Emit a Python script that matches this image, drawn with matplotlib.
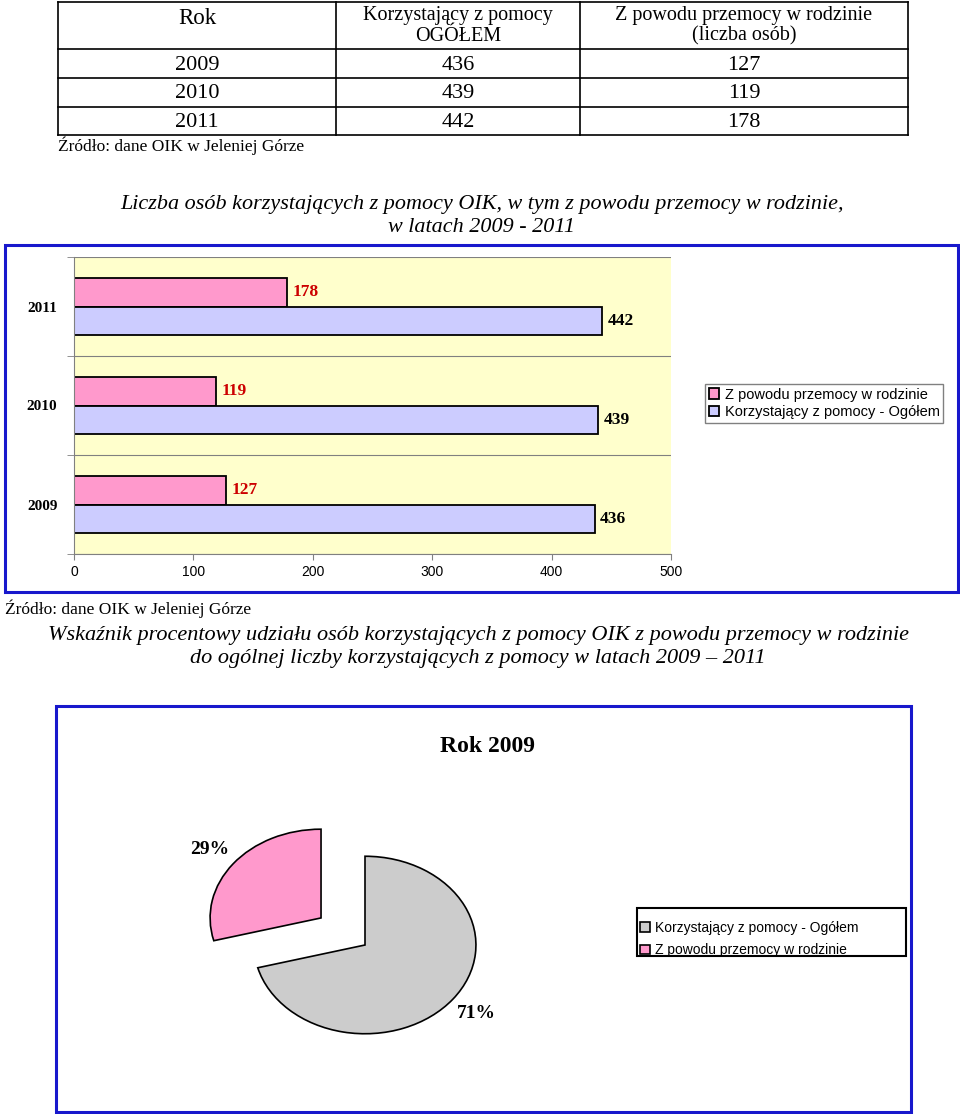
import matplotlib.pyplot as plt
from matplotlib.patches import Rectangle

# dane z tabeli (OIK Jelenia Góra)
lata = ['2009', '2010', '2011']
ogolem = [436, 439, 442]
przemoc = [127, 119, 178]

naglowki = ['Rok', 'Korzystający z pomocy\nOGÓŁEM', 'Z powodu przemocy w rodzinie\n(liczba osób)']
zrodlo = 'Źródło: dane OIK w Jeleniej Górze'
tytul_1 = ('Liczba osób korzystających z pomocy OIK, w tym z powodu przemocy w rodzinie,\n'
           'w latach 2009 - 2011')
tytul_2 = ('Wskaźnik procentowy udziału osób korzystających z pomocy OIK z powodu przemocy w rodzinie\n'
           'do ogólnej liczby korzystających z pomocy w latach 2009 – 2011')
etykiety_slupki = ['Z powodu przemocy w rodzinie', 'Korzystający z pomocy - Ogółem']
etykiety_kolo = ['Korzystający z pomocy - Ogółem', 'Z powodu przemocy w rodzinie']
xticks = [0, 100, 200, 300, 400, 500]

W, H = 960, 1114
SERIF = 'Liberation Serif'
SANS = 'Liberation Sans'
ROZ = '#FF99CC'
FIOL = '#CCCCFF'
SZARY = '#CCCCCC'
NIEB = '#1818CC'

fig = plt.figure(figsize=(W / 100, H / 100), dpi=100)


def box(l, t, r, b):
    # piksele (od gory) -> wspolrzedne figury
    return [l / W, 1 - b / H, (r - l) / W, (b - t) / H]


bg = fig.add_axes([0, 0, 1, 1])
bg.set_xlim(0, W)
bg.set_ylim(H, 0)
bg.axis('off')

# --- tabela ---
kol = [58, 336, 580, 908]
wiersze = [2, 49, 78, 107, 135]
for x in kol:
    bg.plot([x, x], [wiersze[0], wiersze[-1]], color='black', lw=1.2)
for y in wiersze:
    bg.plot([kol[0], kol[-1]], [y, y], color='black', lw=1.2)

srodki = [(kol[i] + kol[i + 1]) / 2 for i in range(3)]
bg.text(srodki[0], 18, naglowki[0], ha='center', va='center', family=SERIF, fontsize=16.5)
for i in (1, 2):
    bg.text(srodki[i], 26, naglowki[i], ha='center', va='center', family=SERIF,
            fontsize=14.5, linespacing=1.1)
for i, rok in enumerate(lata):
    yc = (wiersze[i + 1] + wiersze[i + 2]) / 2 + 1.5
    for j, val in enumerate([rok, ogolem[i], przemoc[i]]):
        bg.text(srodki[j], yc, str(val), ha='center', va='center', family=SERIF, fontsize=16)
bg.text(58, 146, zrodlo, ha='left', va='center', family=SERIF, fontsize=12.5)

bg.text(482, 216, tytul_1, ha='center', va='center', family=SERIF, style='italic',
        fontsize=15.9, linespacing=1.25)

# --- wykres slupkowy ---
bg.add_patch(Rectangle((5, 245), 953, 347, fill=False, edgecolor=NIEB, lw=2.2))

ax = fig.add_axes(box(74, 257, 671, 554))
ax.set_facecolor('#FFFFCC')
pos = range(len(lata))
h = 0.29
b1 = ax.barh([p + h / 2 for p in pos], przemoc, height=h, color=ROZ, edgecolor='black', lw=1.3)
b2 = ax.barh([p - h / 2 for p in pos], ogolem, height=h, color=FIOL, edgecolor='black', lw=1.3)
ax.bar_label(b1, padding=4, color='#CC0000', fontweight='bold', family=SERIF, fontsize=12.5)
ax.bar_label(b2, padding=4, color='black', fontweight='bold', family=SERIF, fontsize=12.5)
ax.set_xlim(0, 500)
ax.set_ylim(-0.5, 2.5)
ax.set_xticks(xticks)
ax.set_xticklabels([str(t) for t in xticks], family=SANS, fontsize=10)
ax.set_yticks(list(pos))
ax.set_yticklabels(lata, family=SERIF, fontweight='bold', fontsize=11)
ax.set_yticks([-0.5, 0.5, 1.5, 2.5], minor=True)
ax.tick_params(axis='y', which='major', length=0, pad=12)
ax.tick_params(axis='y', which='minor', length=5, color='#808080')
ax.tick_params(axis='x', length=4, color='#808080', pad=4)
ax.grid(axis='y', which='minor', color='#808080', lw=0.8)
for s in ('top', 'right'):
    ax.spines[s].set_visible(False)
for s in ('left', 'bottom'):
    ax.spines[s].set_color('#808080')

ax.legend([b1, b2], etykiety_slupki, loc='upper left',
          bbox_to_anchor=(705 / W, 1 - 384 / H), bbox_transform=fig.transFigure,
          prop={'family': SANS, 'size': 10.5}, fancybox=False, edgecolor='#808080',
          handlelength=0.7, handleheight=0.7, handletextpad=0.4, borderpad=0.25,
          labelspacing=0.25, borderaxespad=0, framealpha=1)

bg.text(5, 609, zrodlo, ha='left', va='center', family=SERIF, fontsize=12.5)
bg.text(478, 647, tytul_2, ha='center', va='center', family=SERIF, style='italic',
        fontsize=16, linespacing=1.22)

# --- wykres kolowy 2009 ---
bg.add_patch(Rectangle((56, 706), 855, 406, fill=False, edgecolor=NIEB, lw=2.2))
bg.text(488, 747, 'Rok 2009', ha='center', va='center', family=SERIF,
        fontweight='bold', fontsize=17)

pax = fig.add_axes(box(187.5, 803, 542.5, 1087))
udzialy = [ogolem[0] - przemoc[0], przemoc[0]]
wedges, _, pct = pax.pie(udzialy, colors=[SZARY, ROZ], explode=[0, 0.5], startangle=90,
                         counterclock=False, autopct='%1.0f%%', pctdistance=1.27,
                         wedgeprops={'edgecolor': 'black', 'lw': 1.2})
for t in pct:
    t.set_family(SERIF)
    t.set_fontweight('bold')
    t.set_fontsize(14)
pax.set_aspect('auto')
pax.set_xlim(-1.6, 1.6)
pax.set_ylim(-1.6, 1.6)

bg.add_patch(Rectangle((637, 908), 269, 48, fill=False, edgecolor='black', lw=1.5))
pax.legend(wedges, etykiety_kolo, loc='upper left',
           bbox_to_anchor=(640 / W, 1 - 921 / H), bbox_transform=fig.transFigure,
           prop={'family': SANS, 'size': 10}, frameon=False,
           handlelength=0.7, handleheight=0.7, handletextpad=0.4, borderpad=0,
           labelspacing=0.6, borderaxespad=0)

fig.savefig('out.png', dpi=100)
